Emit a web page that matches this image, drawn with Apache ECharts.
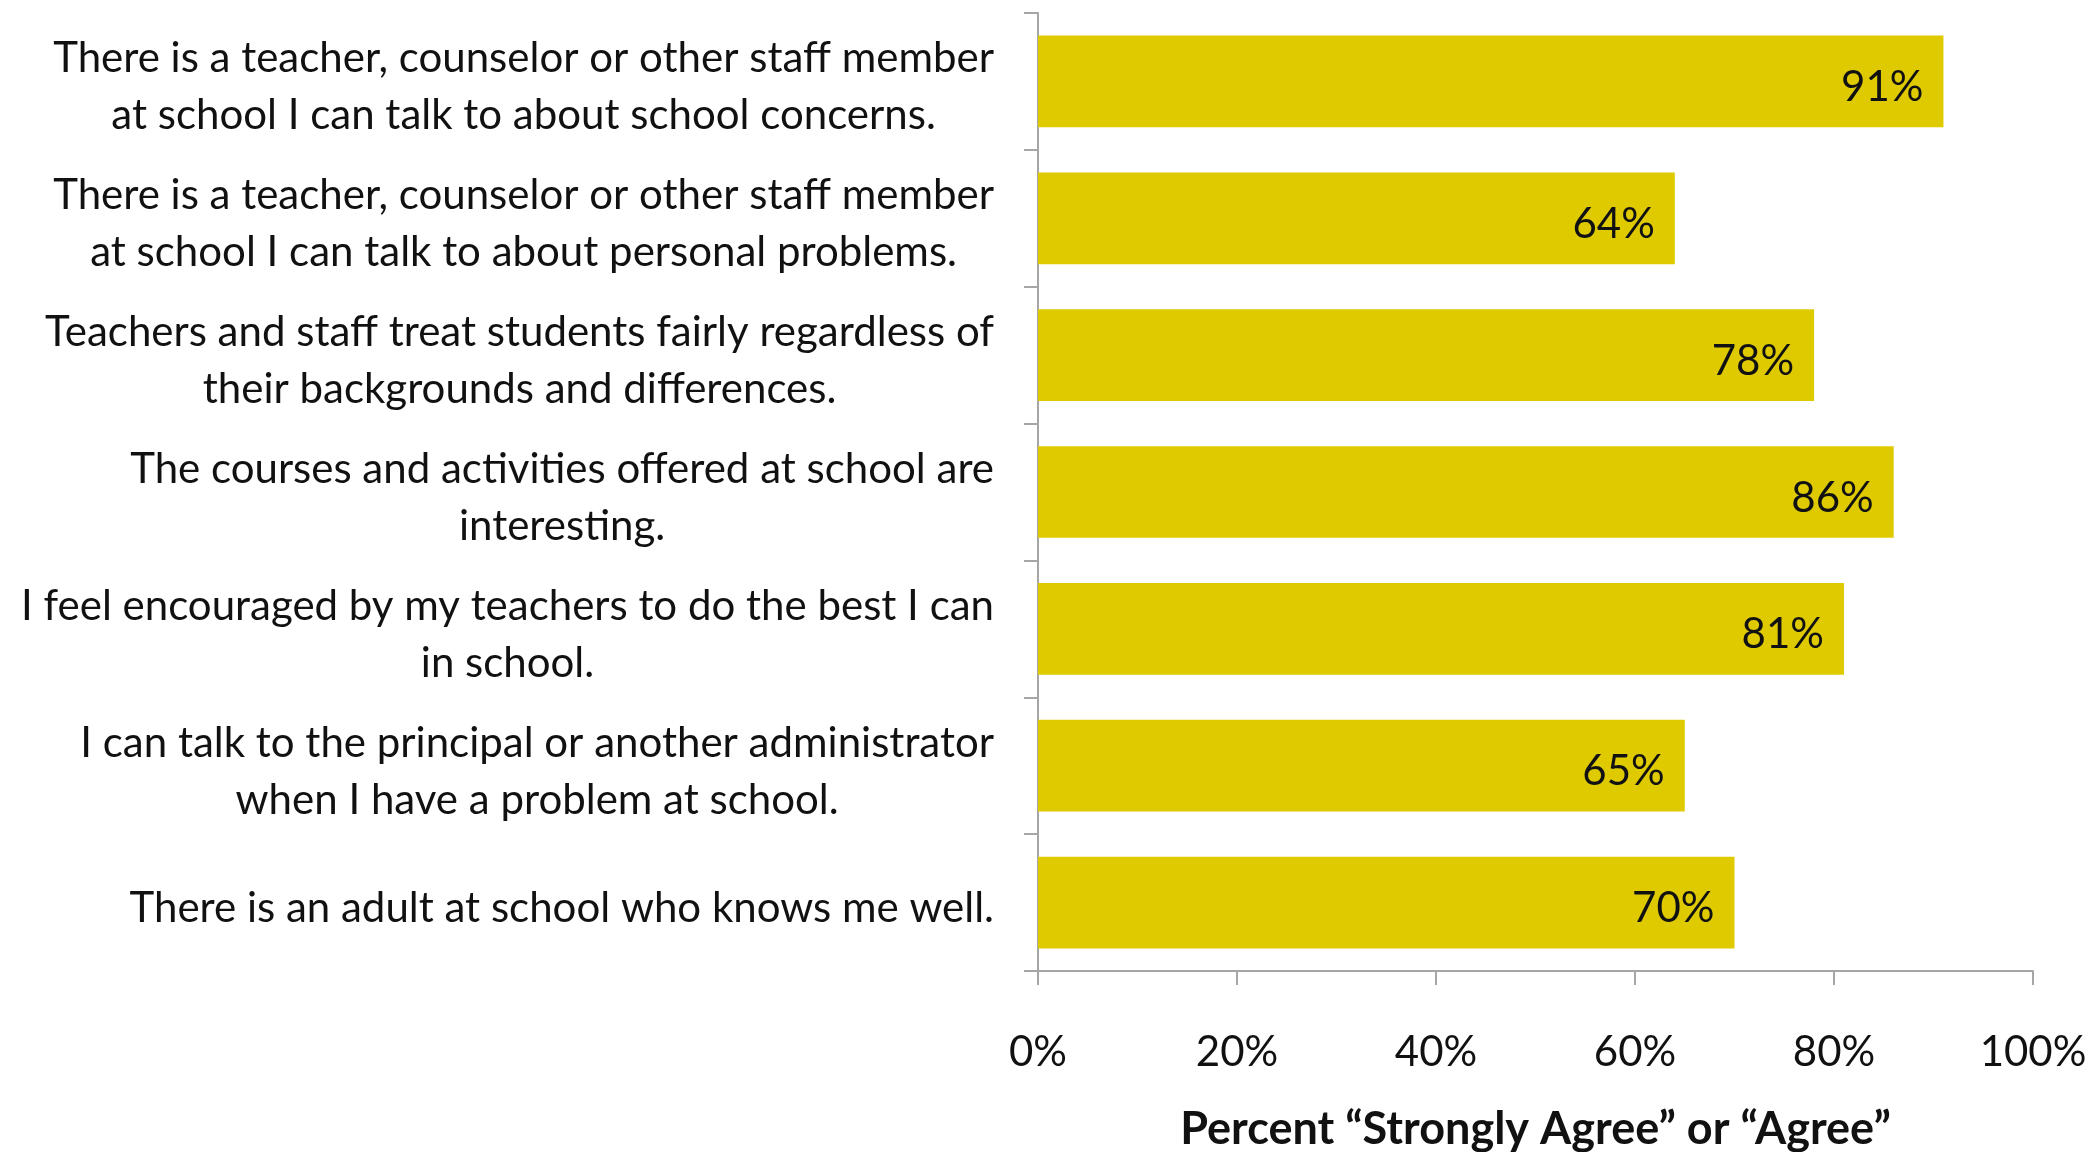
<!DOCTYPE html>
<html>
<head>
<meta charset="utf-8">
<script src="https://cdn.jsdelivr.net/npm/echarts@6/dist/echarts.min.js"></script>
<style>
html,body{margin:0;padding:0;background:#fff;}
#chart{width:2100px;height:1152px;}
</style>
</head>
<body>
<div id="chart"></div>
<script>
const categories = [
  "There is a teacher, counselor or other staff member\nat school I can talk to about school concerns.",
  "There is a teacher, counselor or other staff member\nat school I can talk to about personal problems.",
  "Teachers and staff treat students fairly regardless of\ntheir backgrounds and differences.",
  "The courses and activities offered at school are\ninteresting.",
  "I feel encouraged by my teachers to do the best I can\nin school.",
  "I can talk to the principal or another administrator\nwhen I have a problem at school.",
  "There is an adult at school who knows me well."
];
const values = [91, 64, 78, 86, 81, 65, 70];
const xTicks = { min: 0, max: 100, interval: 20 };
const axisTitle = "Percent \u201CStrongly Agree\u201D or \u201CAgree\u201D";

const FONT = 'Lato';
const FS = 42;
const chart = echarts.init(document.getElementById('chart'), null, { renderer: 'canvas' });
chart.setOption({
  backgroundColor: '#ffffff',
  animation: false,
  grid: { left: 1038, right: 67, top: 13, bottom: 181, containLabel: false, outerBoundsMode: 'none' },
  xAxis: {
    type: 'value',
    min: xTicks.min, max: xTicks.max, interval: xTicks.interval,
    axisLine: { show: true, lineStyle: { color: '#a6a6a6', width: 2 } },
    axisTick: { show: true, length: 14, lineStyle: { color: '#a6a6a6', width: 2 } },
    splitLine: { show: false },
    axisLabel: { formatter: '{value}%', margin: 60, fontSize: FS, fontFamily: FONT, color: '#111' },
    name: axisTitle,
    nameLocation: 'middle',
    nameGap: 136,
    nameTextStyle: { fontSize: 45, fontFamily: FONT, fontWeight: 'bold', color: '#111' }
  },
  yAxis: {
    type: 'category',
    data: categories,
    inverse: true,
    axisLine: { show: true, lineStyle: { color: '#a6a6a6', width: 2 } },
    axisTick: { show: true, length: 14, alignWithLabel: false, lineStyle: { color: '#a6a6a6', width: 2 } },
    axisLabel: {
      margin: 44,
      interval: 0,
      padding: [12, 0, 0, 0],
      formatter: function (v) {
        return v.split('\n').map(function (l) { return '{c|' + l + '}'; }).join('\n');
      },
      rich: {
        c: { align: 'center', fontSize: FS, fontFamily: FONT, color: '#111', lineHeight: 57 }
      }
    }
  },
  series: [{
    type: 'bar',
    data: values,
    barCategoryGap: '33%',
    itemStyle: { color: '#dfca00' },
    label: {
      show: true,
      position: 'insideRight',
      distance: 20,
      offset: [0, 6],
      formatter: '{c}%',
      fontSize: FS,
      fontFamily: FONT,
      color: '#111'
    }
  }]
});
</script>
</body>
</html>
